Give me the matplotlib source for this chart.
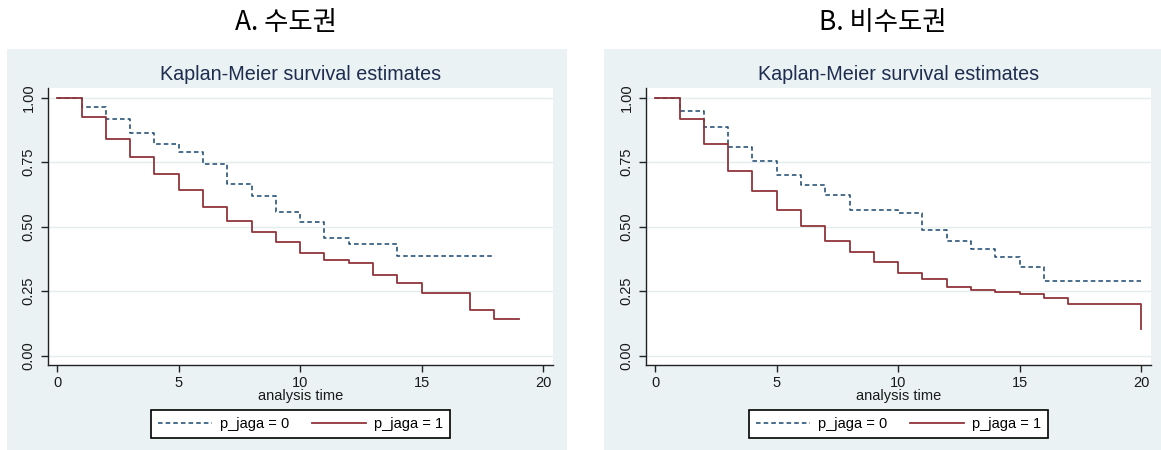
import matplotlib
matplotlib.use("Agg")
import matplotlib.pyplot as plt
from matplotlib.patches import Rectangle
from matplotlib.lines import Line2D

plt.rcParams['font.family'] = ['Liberation Sans', 'DejaVu Sans']

# Kaplan-Meier step data (time, survival) for each region and group
A_t0 = [0, 1, 2, 3, 4, 5, 6, 7, 8, 9, 10, 11, 12, 14, 18]
A_s0 = [1.0, 0.964, 0.919, 0.864, 0.819, 0.791, 0.744, 0.667, 0.620, 0.556,
        0.518, 0.456, 0.433, 0.386, 0.386]
A_t1 = [0, 1, 2, 3, 4, 5, 6, 7, 8, 9, 10, 11, 12, 13, 14, 15, 17, 18, 19]
A_s1 = [1.0, 0.926, 0.840, 0.770, 0.704, 0.642, 0.576, 0.522, 0.481, 0.441,
        0.399, 0.370, 0.358, 0.313, 0.283, 0.242, 0.176, 0.143, 0.143]

B_t0 = [0, 1, 2, 3, 4, 5, 6, 7, 8, 10, 11, 12, 13, 14, 15, 16, 20]
B_s0 = [1.0, 0.947, 0.885, 0.807, 0.753, 0.700, 0.663, 0.621, 0.563, 0.552,
        0.486, 0.444, 0.415, 0.382, 0.345, 0.288, 0.288]
B_t1 = [0, 1, 2, 3, 4, 5, 6, 7, 8, 9, 10, 11, 12, 13, 14, 15, 16, 17, 20]
B_s1 = [1.0, 0.919, 0.819, 0.717, 0.638, 0.563, 0.503, 0.444, 0.403, 0.362,
        0.320, 0.296, 0.267, 0.256, 0.247, 0.239, 0.222, 0.202, 0.102]

panel_titles = ["A. 수도권", "B. 비수도권"]
sub_title = "Kaplan-Meier survival estimates"
legend_labels = ["p_jaga = 0", "p_jaga = 1"]
x_ticks = [0, 5, 10, 15, 20]
y_ticks = [0.0, 0.25, 0.5, 0.75, 1.0]
y_ticklabels = ["0.00", "0.25", "0.50", "0.75", "1.00"]

BG = "#eaf2f3"
NAVY = "#1a476f"
MAROON = "#90353b"
W, H = 1161, 450

fig = plt.figure(figsize=(W / 100, H / 100), dpi=100)
fig.patch.set_facecolor("white")

panels = [
    dict(bg=(7, 567), ax=(48, 553), title_x=286, data=(A_t0, A_s0, A_t1, A_s1)),
    dict(bg=(604, 1161), ax=(646, 1151), title_x=883, data=(B_t0, B_s0, B_t1, B_s1)),
]

for i, p in enumerate(panels):
    bx0, bx1 = p["bg"]
    fig.add_artist(Rectangle((bx0 / W, 0), (bx1 - bx0) / W, 1 - 49 / H,
                             transform=fig.transFigure, facecolor=BG,
                             edgecolor="none", zorder=-5))
    fig.text(p["title_x"] / W, 1 - 22 / H, panel_titles[i], ha="center", va="center",
             fontsize=19, family=['Noto Sans CJK KR', 'DejaVu Sans'], color="black")

    ax0, ax1 = p["ax"]
    ax = fig.add_axes([ax0 / W, 1 - 365 / H, (ax1 - ax0) / W, 277 / H])
    ax.set_facecolor("white")
    t0, s0, t1, s1 = p["data"]
    ax.step(t0, s0, where="post", color=NAVY, lw=1.1, linestyle=(0, (3, 2)))
    ax.step(t1, s1, where="post", color=MAROON, lw=1.3)

    ax.set_xlim(-0.38, 20.41)
    ax.set_ylim(-0.036, 1.0376)
    ax.set_xticks(x_ticks)
    ax.set_yticks(y_ticks)
    ax.set_yticklabels(y_ticklabels, rotation=90, va="center")
    for sp in ("top", "right"):
        ax.spines[sp].set_visible(False)
    for sp in ("left", "bottom"):
        ax.spines[sp].set_color("#222222")
        ax.spines[sp].set_linewidth(1.0)
    ax.tick_params(axis="both", length=5, width=1, color="#222222",
                   labelsize=10.5, labelcolor="#1a1a1a")
    ax.tick_params(axis="x", pad=3)
    ax.tick_params(axis="y", pad=4)
    ax.grid(axis="y", color="#e3ecee", lw=1)
    ax.set_axisbelow(True)

    ax.set_xlabel("analysis time", fontsize=10.5, color="#1a1a1a", labelpad=-1)
    ax.set_title(sub_title, fontsize=14.2, color="#1e2d4f", pad=6)

    handles = [Line2D([], [], color=NAVY, lw=1.1, linestyle=(0, (3, 2))),
               Line2D([], [], color=MAROON, lw=1.3)]
    leg = ax.legend(handles, legend_labels, loc="center", ncol=2,
                    bbox_to_anchor=(0.5, (365 - 424) / 277), frameon=True,
                    fancybox=False, edgecolor="black", framealpha=1,
                    facecolor="white", fontsize=10.5,
                    handlelength=3.7, columnspacing=1.6, handletextpad=0.55,
                    borderpad=0.45, borderaxespad=0)
    leg.get_frame().set_linewidth(1.2)

fig.savefig("out.png", dpi=100, facecolor="white")
